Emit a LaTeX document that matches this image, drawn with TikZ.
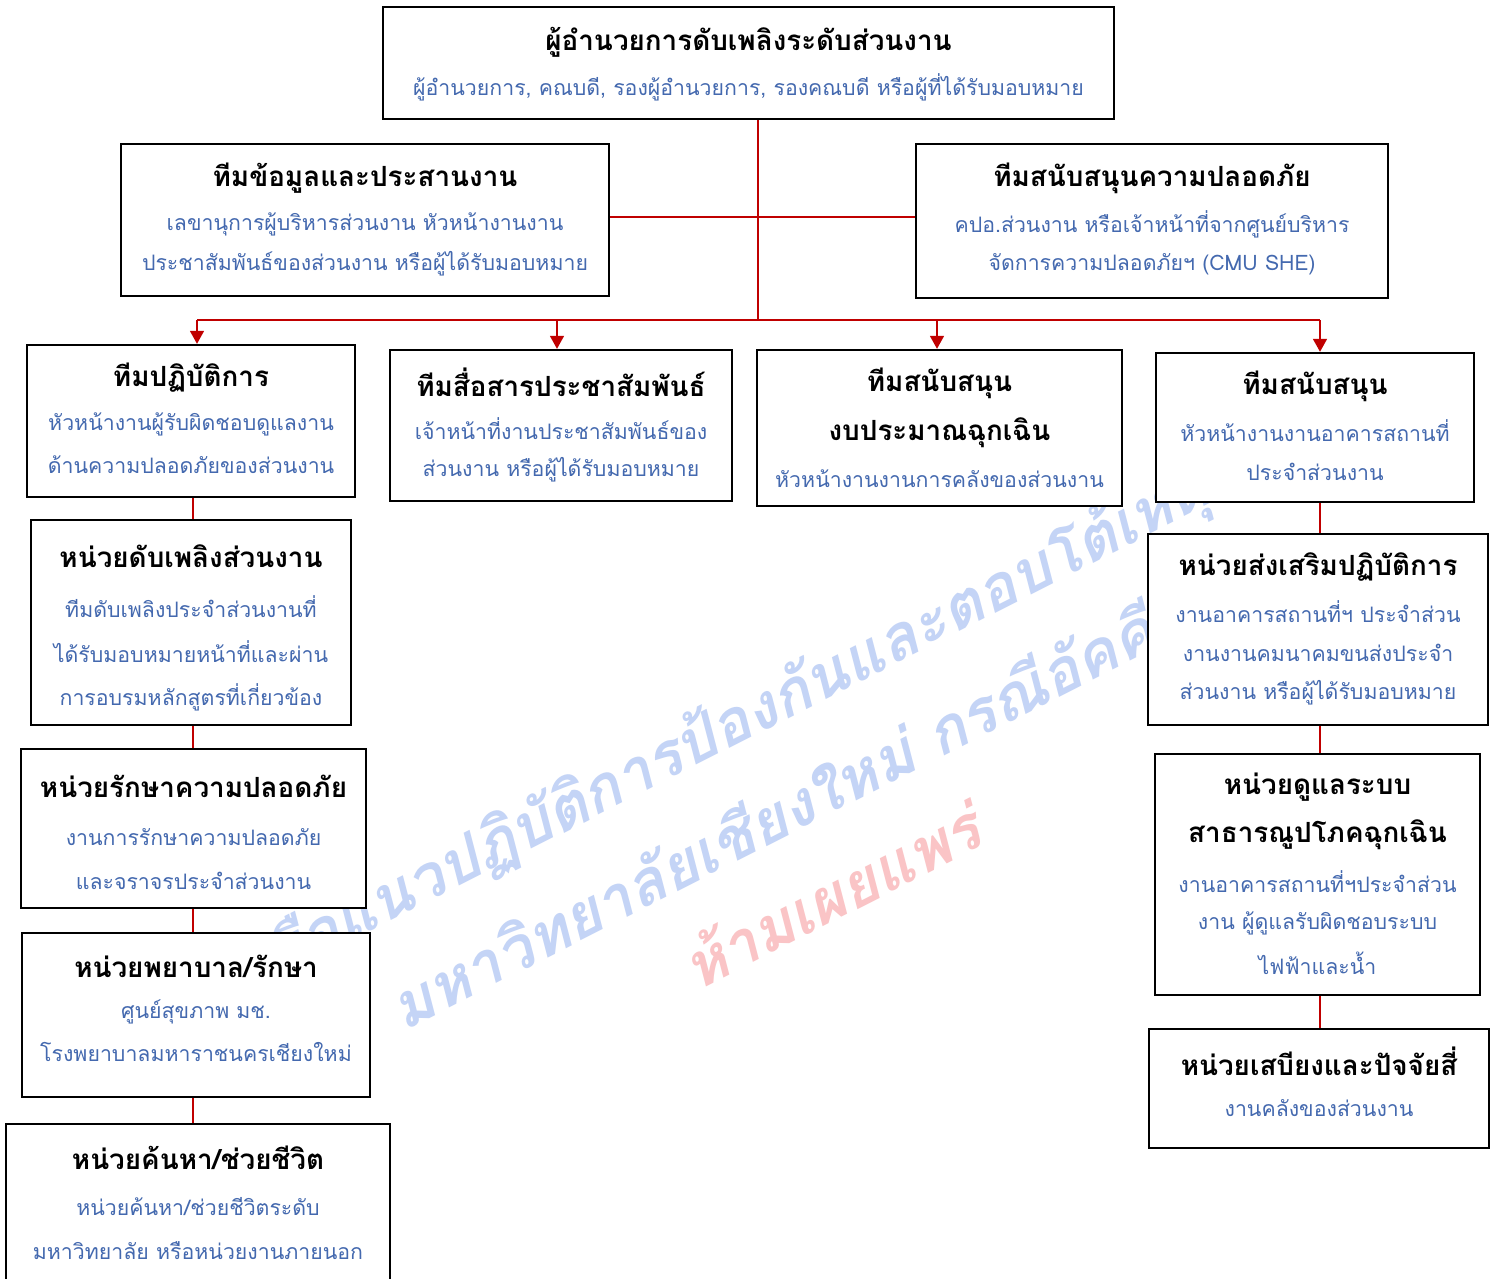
\documentclass[tikz,border=0pt]{standalone}
\usepackage{fontspec}
\usetikzlibrary{arrows.meta}
\newfontfamily\thai[Script=Thai]{Loma}
\definecolor{subblue}{RGB}{68,105,175}
\definecolor{linered}{RGB}{192,0,0}
\definecolor{wmblue}{RGB}{196,212,246}
\definecolor{wmpink}{RGB}{250,196,198}
\begin{document}
\begin{tikzpicture}[x=1pt,y=-1pt,
  box/.style={draw=black,line width=2.4pt,fill=white,rectangle,inner sep=0pt},
  ttl/.style={font=\thai\bfseries\fontsize{27.8}{32}\selectfont,text=black,inner sep=0pt},
  sub/.style={font=\thai\fontsize{21.3}{26}\selectfont,text=subblue,inner sep=0pt},
  wm/.style={font=\thai\bfseries\fontsize{62}{70}\selectfont,rotate=27,xslant=0.22,inner sep=0pt},
  conn/.style={draw=linered,line width=1.6pt},
  arr/.style={conn,-{Triangle[width=14pt,length=13pt]}}]
\clip (0,0) rectangle (1496,1278);
\fill[white] (0,0) rectangle (1496,1278);
% watermark
\node[wm,text=wmblue] (wm1) at (805,690) {คู่มือแนวปฏิบัติการป้องกันและตอบโต้เหตุฉุกเฉิน};
\node[wm,text=wmblue] (wm2) at (810,795) {มหาวิทยาลัยเชียงใหม่ กรณีอัคคีภัย};
\node[wm,text=wmpink] (wm3) at (835,892) {ห้ามเผยแพร่};
% coordinates for connectors
\coordinate (hub) at (758,320);
\coordinate (mid) at (758,217);
\coordinate (a1) at (197,320);
\coordinate (a2) at (557,320);
\coordinate (a3) at (937,320);
\coordinate (a4) at (1320,320);
\coordinate (lc) at (193,0);
\coordinate (rc) at (1320,0);
% boxes
\node[box,minimum width=731pt,minimum height=112pt] (top) at (748.5,63) {};
\node[box,minimum width=488pt,minimum height=152pt] (info) at (365,220) {};
\node[box,minimum width=472pt,minimum height=154pt] (safe) at (1152,221) {};
\node[box,minimum width=328pt,minimum height=152pt] (ops) at (191,421) {};
\node[box,minimum width=342pt,minimum height=151pt] (pr) at (561,425.5) {};
\node[box,minimum width=365pt,minimum height=156pt] (bud) at (939.5,428) {};
\node[box,minimum width=318pt,minimum height=149pt] (sup) at (1315,427.5) {};
\node[box,minimum width=320pt,minimum height=205pt] (fire) at (191,622.5) {};
\node[box,minimum width=345pt,minimum height=159pt] (sec) at (193.5,828.5) {};
\node[box,minimum width=348pt,minimum height=164pt] (nur) at (196,1015) {};
\node[box,minimum width=384pt,minimum height=166pt] (sea) at (198,1207) {};
\node[box,minimum width=340pt,minimum height=191pt] (pro) at (1318,629.5) {};
\node[box,minimum width=325pt,minimum height=241pt] (uti) at (1317.5,874.5) {};
\node[box,minimum width=340pt,minimum height=119pt] (spl) at (1319,1088.5) {};
% connectors
\draw[conn] (hub |- top.south) -- (hub);
\draw[conn] (info.east |- mid) -- (safe.west |- mid);
\draw[conn] (a1) -- (a4);
\draw[arr] (a1) -- (a1 |- ops.north);
\draw[arr] (a2) -- (a2 |- pr.north);
\draw[arr] (a3) -- (a3 |- bud.north);
\draw[arr] (a4) -- (a4 |- sup.north);
\draw[conn] (lc |- ops.south) -- (lc |- fire.north);
\draw[conn] (lc |- fire.south) -- (lc |- sec.north);
\draw[conn] (lc |- sec.south) -- (lc |- nur.north);
\draw[conn] (lc |- nur.south) -- (lc |- sea.north);
\draw[conn] (rc |- sup.south) -- (rc |- pro.north);
\draw[conn] (rc |- pro.south) -- (rc |- uti.north);
\draw[conn] (rc |- uti.south) -- (rc |- spl.north);
% texts
\node[ttl] (top-t) at (748.5,42) {ผู้อำนวยการดับเพลิงระดับส่วนงาน};
\node[sub] (top-s) at (748.5,87) {ผู้อำนวยการ, คณบดี, รองผู้อำนวยการ, รองคณบดี หรือผู้ที่ได้รับมอบหมาย};
\node[ttl] (info-t) at (365,178) {ทีมข้อมูลและประสานงาน};
\node[sub] (info-s1) at (365,224) {เลขานุการผู้บริหารส่วนงาน หัวหน้างานงาน};
\node[sub] (info-s2) at (365,264) {ประชาสัมพันธ์ของส่วนงาน หรือผู้ได้รับมอบหมาย};
\node[ttl] (safe-t) at (1152,178) {ทีมสนับสนุนความปลอดภัย};
\node[sub] (safe-s1) at (1152,224) {คปอ.ส่วนงาน หรือเจ้าหน้าที่จากศูนย์บริหาร};
\node[sub] (safe-s2) at (1152,264) {จัดการความปลอดภัยฯ (CMU SHE)};
\node[ttl] (ops-t) at (191,378) {ทีมปฏิบัติการ};
\node[sub] (ops-s1) at (191,424) {หัวหน้างานผู้รับผิดชอบดูแลงาน};
\node[sub] (ops-s2) at (191,465) {ด้านความปลอดภัยของส่วนงาน};
\node[ttl] (pr-t) at (561,382) {ทีมสื่อสารประชาสัมพันธ์};
\node[sub] (pr-s1) at (561,429) {เจ้าหน้าที่งานประชาสัมพันธ์ของ};
\node[sub] (pr-s2) at (561,470) {ส่วนงาน หรือผู้ได้รับมอบหมาย};
\node[ttl] (bud-t1) at (939.5,383) {ทีมสนับสนุน};
\node[ttl] (bud-t2) at (939.5,433) {งบประมาณฉุกเฉิน};
\node[sub] (bud-s) at (939.5,479) {หัวหน้างานงานการคลังของส่วนงาน};
\node[ttl] (sup-t) at (1315,386) {ทีมสนับสนุน};
\node[sub] (sup-s1) at (1315,431) {หัวหน้างานงานอาคารสถานที่};
\node[sub] (sup-s2) at (1315,472) {ประจำส่วนงาน};
\node[ttl] (fire-t) at (191,556) {หน่วยดับเพลิงส่วนงาน};
\node[sub] (fire-s1) at (191,607) {ทีมดับเพลิงประจำส่วนงานที่};
\node[sub] (fire-s2) at (191,652) {ได้รับมอบหมายหน้าที่และผ่าน};
\node[sub] (fire-s3) at (191,697) {การอบรมหลักสูตรที่เกี่ยวข้อง};
\node[ttl] (sec-t) at (193.5,786) {หน่วยรักษาความปลอดภัย};
\node[sub] (sec-s1) at (193.5,837) {งานการรักษาความปลอดภัย};
\node[sub] (sec-s2) at (193.5,881) {และจราจรประจำส่วนงาน};
\node[ttl] (nur-t) at (196,966) {หน่วยพยาบาล/รักษา};
\node[sub] (nur-s1) at (196,1012) {ศูนย์สุขภาพ มช.};
\node[sub] (nur-s2) at (196,1052) {โรงพยาบาลมหาราชนครเชียงใหม่};
\node[ttl] (sea-t) at (198,1158) {หน่วยค้นหา/ช่วยชีวิต};
\node[sub] (sea-s1) at (198,1207) {หน่วยค้นหา/ช่วยชีวิตระดับ};
\node[sub] (sea-s2) at (198,1251) {มหาวิทยาลัย หรือหน่วยงานภายนอก};
\node[ttl] (pro-t) at (1318,567) {หน่วยส่งเสริมปฏิบัติการ};
\node[sub] (pro-s1) at (1318,612) {งานอาคารสถานที่ฯ ประจำส่วน};
\node[sub] (pro-s2) at (1318,653) {งานงานคมนาคมขนส่งประจำ};
\node[sub] (pro-s3) at (1318,693) {ส่วนงาน หรือผู้ได้รับมอบหมาย};
\node[ttl] (uti-t1) at (1317.5,787) {หน่วยดูแลระบบ};
\node[ttl] (uti-t2) at (1317.5,835) {สาธารณูปโภคฉุกเฉิน};
\node[sub] (uti-s1) at (1317.5,882) {งานอาคารสถานที่ฯประจำส่วน};
\node[sub] (uti-s2) at (1317.5,923) {งาน ผู้ดูแลรับผิดชอบระบบ};
\node[sub] (uti-s3) at (1317.5,963) {ไฟฟ้าและน้ำ};
\node[ttl] (spl-t) at (1319,1061) {หน่วยเสบียงและปัจจัยสี่};
\node[sub] (spl-s) at (1319,1108) {งานคลังของส่วนงาน};
\end{tikzpicture}
\end{document}
